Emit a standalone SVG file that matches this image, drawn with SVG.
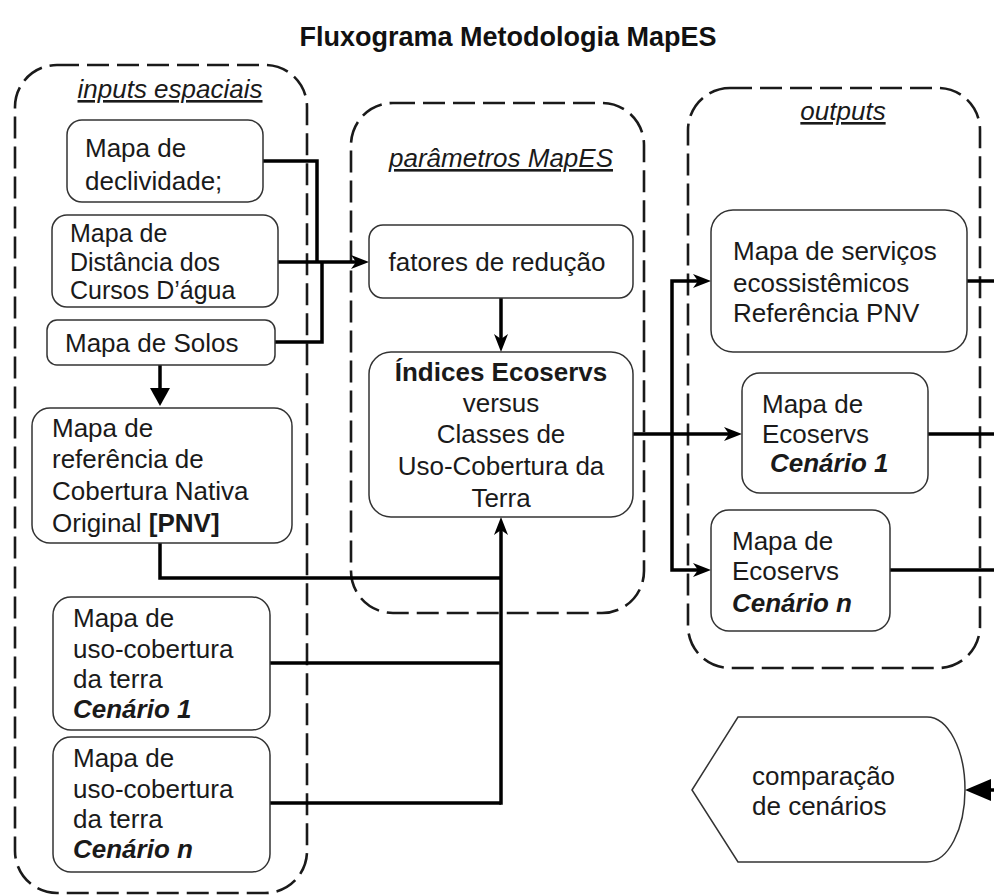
<svg xmlns="http://www.w3.org/2000/svg" width="994" height="895" viewBox="0 0 994 895">
<style>
text{font-family:"Liberation Sans",Arial,sans-serif;font-size:26px;fill:#1a1a1a}
.title{font-size:27px;font-weight:bold;fill:#111}
.hdr{font-style:italic;text-decoration:underline}
.bi{font-weight:bold;font-style:italic}
.b{font-weight:bold}
.sm{font-size:25px}
.box{fill:#fff;stroke:#333;stroke-width:1.5}
.cont{fill:none;stroke:#1a1a1a;stroke-width:2.6;stroke-dasharray:22 8}
.con{fill:none;stroke:#000;stroke-width:3.5}
.mid{text-anchor:middle}
</style>
<defs>
<marker id="ah" viewBox="0 0 18 14" refX="12" refY="7" markerWidth="18" markerHeight="14" markerUnits="userSpaceOnUse" orient="auto"><path d="M0,0 L18,7 L0,14 L5,7 Z" fill="#000"/></marker>
<marker id="tri" viewBox="0 0 18 20" refX="6" refY="10" markerWidth="18" markerHeight="20" markerUnits="userSpaceOnUse" orient="auto"><path d="M0,0 L18,10 L0,20 Z" fill="#000"/></marker>
<marker id="tri2" viewBox="0 0 26 22" refX="8" refY="11" markerWidth="26" markerHeight="22" markerUnits="userSpaceOnUse" orient="auto"><path d="M0,0 L26,11 L0,22 Z" fill="#000"/></marker>
</defs>
<rect width="994" height="895" fill="#fff"/>
<text class="title mid" x="508" y="46">Fluxograma Metodologia MapES</text>

<g id="grp-inputs"><rect class="cont" x="15" y="65" width="292" height="828" rx="42"/><text class="hdr mid" x="170" y="98">inputs espaciais</text></g>
<g id="grp-params"><rect class="cont" x="351" y="103" width="293" height="510" rx="42"/><text class="hdr mid" x="501" y="167">parâmetros MapES</text></g>
<g id="grp-outputs"><rect class="cont" x="688" y="88" width="292" height="580" rx="42"/><text class="hdr mid" x="843" y="120">outputs</text></g>

<g id="connectors">
<polyline class="con" points="263,161 317,161 317,262"/>
<line class="con" x1="278" y1="262" x2="363" y2="262" marker-end="url(#ah)"/>
<polyline class="con" points="275,342 322,342 322,262"/>
<line class="con" x1="160" y1="365" x2="160" y2="394" marker-end="url(#tri)"/>
<polyline class="con" points="160,543 160,578 501,578"/>
<line class="con" x1="270" y1="663" x2="501" y2="663"/>
<line class="con" x1="270" y1="803" x2="501" y2="803"/>
<line class="con" x1="501" y1="804.75" x2="501" y2="523" marker-end="url(#ah)"/>
<line class="con" x1="501" y1="298" x2="501" y2="346" marker-end="url(#ah)"/>
<line class="con" x1="633" y1="434" x2="736" y2="434" marker-end="url(#ah)"/>
<path class="con" d="M672,434 V281 H705" marker-end="url(#ah)"/>
<path class="con" d="M672,434 V570 H705" marker-end="url(#ah)"/>
<line class="con" x1="967" y1="281" x2="994" y2="281"/>
<line class="con" x1="928" y1="434" x2="994" y2="434"/>
<line class="con" x1="890" y1="570" x2="994" y2="570"/>
<line class="con" x1="996" y1="790" x2="983" y2="790" marker-end="url(#tri2)"/>
</g>

<g id="n-declividade"><rect class="box" x="67" y="120" width="196" height="82" rx="15"/><text x="85" y="157">Mapa de</text><text x="85" y="190">declividade;</text></g>
<g id="n-distancia"><rect class="box" x="52" y="215" width="226" height="92" rx="15"/><text class="sm" x="70" y="242">Mapa de</text><text class="sm" x="70" y="270.5">Distância dos</text><text class="sm" x="70" y="299">Cursos D’água</text></g>
<g id="n-solos"><rect class="box" x="47" y="320" width="228" height="45" rx="10"/><text x="65" y="352">Mapa de Solos</text></g>
<g id="n-pnv"><rect class="box" x="32" y="408" width="260" height="135" rx="18"/><text x="52" y="437">Mapa de</text><text x="52" y="468">referência de</text><text x="52" y="500">Cobertura Nativa</text><text x="52" y="532">Original <tspan class="b">[PNV]</tspan></text></g>
<g id="n-uso1"><rect class="box" x="53" y="597" width="217" height="133" rx="18"/><text x="73" y="627">Mapa de</text><text x="73" y="658">uso-cobertura</text><text x="73" y="688">da terra</text><text class="bi" x="73" y="718">Cenário 1</text></g>
<g id="n-uson"><rect class="box" x="53" y="737" width="217" height="135" rx="18"/><text x="73" y="767">Mapa de</text><text x="73" y="798">uso-cobertura</text><text x="73" y="828">da terra</text><text class="bi" x="73" y="858">Cenário n</text></g>

<g id="n-fatores"><rect class="box" x="369" y="225" width="264" height="73" rx="14"/><text class="mid" x="497" y="271">fatores de redução</text></g>
<g id="n-indices"><rect class="box" x="369" y="352" width="264" height="165" rx="22"/><text class="mid b" x="501" y="381">Índices Ecoservs</text><text class="mid" x="501" y="412">versus</text><text class="mid" x="501" y="443">Classes de</text><text class="mid" x="501" y="475">Uso-Cobertura da</text><text class="mid" x="501" y="507">Terra</text></g>

<g id="n-servicos"><rect class="box" x="711" y="210" width="256" height="142" rx="22"/><text x="733" y="260">Mapa de serviços</text><text x="733" y="292">ecossistêmicos</text><text x="733" y="322">Referência PNV</text></g>
<g id="n-eco1"><rect class="box" x="742" y="373" width="186" height="120" rx="18"/><text x="762" y="413">Mapa de</text><text x="762" y="443">Ecoservs</text><text class="bi" x="770" y="472">Cenário 1</text></g>
<g id="n-econ"><rect class="box" x="711" y="510" width="179" height="121" rx="18"/><text x="732" y="550">Mapa de</text><text x="732" y="580">Ecoservs</text><text class="bi" x="732" y="612">Cenário n</text></g>

<g id="n-comparacao"><path class="box" d="M692,790 L738,717 L927,717 A38,72.5 0 0 1 927,862 L738,862 Z"/><text x="752" y="785">comparação</text><text x="752" y="815">de cenários</text></g>
</svg>
